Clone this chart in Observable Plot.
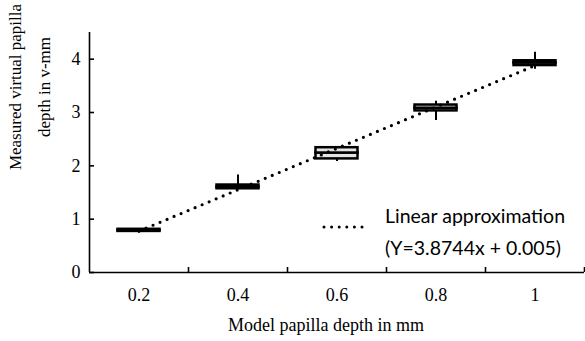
<!DOCTYPE html>
<html>
<head>
<meta charset="utf-8">
<script src="https://cdn.jsdelivr.net/npm/d3@7"></script>
<script src="https://cdn.jsdelivr.net/npm/@observablehq/plot@0.6"></script>
<style>
  html, body { margin: 0; padding: 0; background: #fff; }
  #wrap { position: relative; width: 585px; height: 341px; }
  #legend { position: absolute; left: 322px; top: 202px; font-family: Lato, "Open Sans", sans-serif; font-size: 19.5px; line-height: 24px; color: #000; }
  #legend .row { position: absolute; white-space: nowrap; left: 63px; }
  #legend svg { position: absolute; left: 0; top: 21px; }
  #ytitle { position: absolute; left: 30px; top: 87px; transform: translate(-50%, -50%) rotate(-90deg);
            font-family: 'Liberation Serif', 'Times New Roman', serif; font-size: 17px; line-height: 29px;
            text-align: center; white-space: nowrap; color: #000; }
</style>
</head>
<body>
<div id="wrap">
  <div id="chart"></div>
  <div id="ytitle"></div>
  <div id="legend">
    <svg width="46" height="8"><line x1="2" y1="4" x2="44" y2="4" stroke="#000" stroke-width="3" stroke-linecap="round" stroke-dasharray="0,7.6"/></svg>
    <div class="row" style="top:2px">Linear approximation</div>
    <div class="row" style="top:34px">(Y=3.8744x + 0.005)</div>
  </div>
</div>
<script>
const depths = [0.2, 0.4, 0.6, 0.8, 1];
const mins    = [0.74, 1.57, 2.08, 2.85, 3.81];
const q1s     = [0.77, 1.57, 2.13, 3.03, 3.88];
const medians = [0.79, 1.60, 2.24, 3.08, 3.93];
const q3s     = [0.81, 1.64, 2.34, 3.14, 3.97];
const maxs    = [0.81, 1.83, 2.34, 3.21, 4.13];
const yTicks = [0, 1, 2, 3, 4];
const xTickLabels = ["0.2", "0.4", "0.6", "0.8", "1"];
const xDividers = [0.3, 0.5, 0.7, 0.9, 1.1];
const xTitle = "Model papilla depth in mm";
const yTitleLines = ["Measured virtual papilla", "depth in v-mm"];

document.getElementById("ytitle").innerHTML = yTitleLines.join("<br>");

const rows = depths.map((x, i) => ({x, min: mins[i], q1: q1s[i], med: medians[i], q3: q3s[i], max: maxs[i]}));
const half = 0.1;
const boxInset = 28.5;

const plot = Plot.plot({
  width: 585,
  height: 341,
  marginLeft: 89,
  marginRight: 1,
  marginTop: 32,
  marginBottom: 69,
  style: {fontFamily: "'Liberation Serif', 'Times New Roman', serif", fontSize: "18px", color: "#000"},
  x: {domain: [0.1, 1.1], axis: null},
  y: {domain: [0, 4.5], axis: null},
  marks: [
    // whiskers
    Plot.ruleX(rows, {x: "x", y1: "min", y2: "q1", stroke: "#000", strokeWidth: 2}),
    Plot.ruleX(rows, {x: "x", y1: "q3", y2: "max", stroke: "#000", strokeWidth: 2}),
    // boxes
    Plot.rect(rows, {x1: d => d.x - half, x2: d => d.x + half, y1: "q1", y2: "med", insetLeft: boxInset, insetRight: boxInset, fill: "#e4e4e4", stroke: "#000", strokeWidth: 2.5}),
    Plot.rect(rows, {x1: d => d.x - half, x2: d => d.x + half, y1: "med", y2: "q3", insetLeft: boxInset, insetRight: boxInset, fill: "#e4e4e4", stroke: "#000", strokeWidth: 2.5}),
    // trend line
    Plot.linearRegressionY(rows, {x: "x", y: "med", ci: 0, stroke: "#000", strokeWidth: 3.2, strokeDasharray: "0,7.6", strokeLinecap: "round"}),
    // axis lines
    Plot.ruleY([0], {stroke: "#000", strokeWidth: 1.6}),
    Plot.ruleX([0.1], {y1: 0, y2: 4.5, stroke: "#000", strokeWidth: 1.6}),
    // y axis ticks and labels
    Plot.axisY({ticks: yTicks, tickSize: -5, text: null, label: null, strokeWidth: 1.6}),
    Plot.axisY({ticks: yTicks, tickSize: 0, tickPadding: 9, label: null, fontSize: 18, tickFormat: d => String(d)}),
    // x axis dividers and labels
    Plot.axisX({ticks: xDividers, tickSize: -5, text: null, label: null, strokeWidth: 1.6}),
    Plot.axisX({ticks: depths, tickSize: 0, tickPadding: 16, label: null, fontSize: 18, tickFormat: (d, i) => xTickLabels[i]}),
    // x title
    Plot.text([xTitle], {frameAnchor: "bottom", text: d => d, dy: 58, dx: -11, fontSize: 18})
  ]
});
document.getElementById("chart").appendChild(plot);
</script>
</body>
</html>
